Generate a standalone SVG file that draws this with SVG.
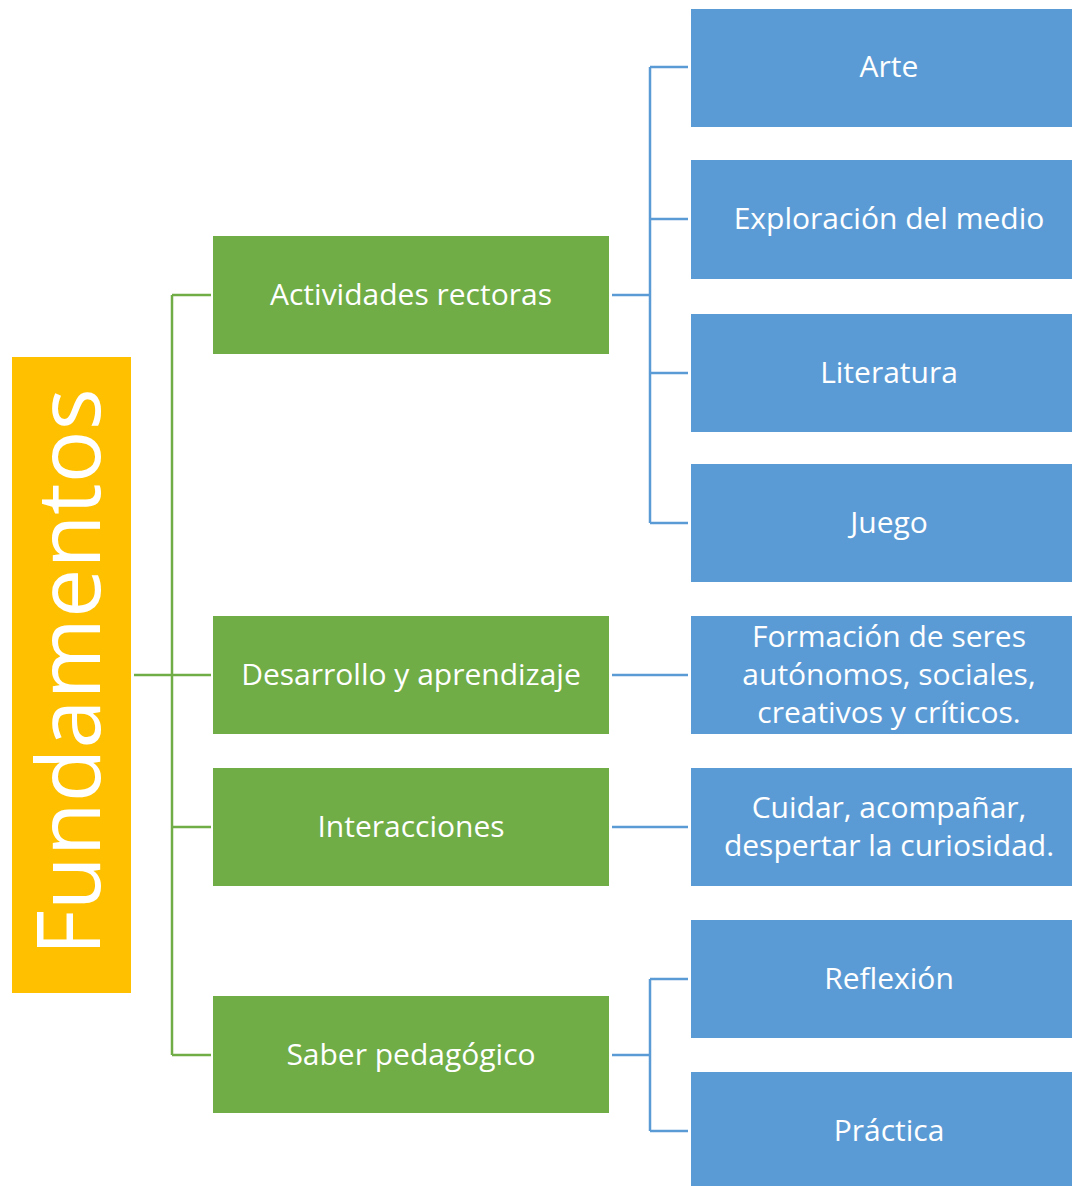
<svg xmlns="http://www.w3.org/2000/svg" width="1072" height="1186" viewBox="0 0 1072 1186">
<style>
.g{fill:#70AD47}
.b{fill:#5B9BD5}
.o{fill:#FFC000}
text{font-family:"Open Sans","Noto Sans",sans-serif;fill:#fff;text-anchor:middle}
.t{font-size:30px}
.cg{stroke:#70AD47;stroke-width:2.5;fill:none}
.cb{stroke:#5B9BD5;stroke-width:2.5;fill:none}
</style>
<rect width="1072" height="1186" fill="#fff"/>
<g id="connectors">
<path class="cg" d="M134 675H211M172 295V1055M172 295H211M172 827H211M172 1055H211"/>
<path class="cb" d="M612 295H650M650 67V523M650 67H688M650 219H688M650 373H688M650 523H688"/>
<path class="cb" d="M612 675H688M612 827H688"/>
<path class="cb" d="M612 1055H650M650 979V1131M650 979H688M650 1131H688"/>
</g>
<g id="fundamentos">
<rect class="o" x="12" y="357" width="119" height="636"/>
<text transform="translate(100,672) rotate(-90)" font-size="88">Fundamentos</text>
</g>
<g id="actividades">
<rect class="g" x="213" y="236" width="396" height="118"/>
<text class="t" x="411" y="305">Actividades rectoras</text>
</g>
<g id="desarrollo">
<rect class="g" x="213" y="616" width="396" height="118"/>
<text class="t" x="411" y="685">Desarrollo y aprendizaje</text>
</g>
<g id="interacciones">
<rect class="g" x="213" y="768" width="396" height="118"/>
<text class="t" x="411" y="837">Interacciones</text>
</g>
<g id="saber">
<rect class="g" x="213" y="996" width="396" height="117"/>
<text class="t" x="411" y="1065">Saber pedagógico</text>
</g>
<g id="arte">
<rect class="b" x="691" y="9" width="381" height="118"/>
<text class="t" x="889" y="77">Arte</text>
</g>
<g id="exploracion">
<rect class="b" x="691" y="160" width="381" height="119"/>
<text class="t" x="889" y="229">Exploración del medio</text>
</g>
<g id="literatura">
<rect class="b" x="691" y="314" width="381" height="118"/>
<text class="t" x="889" y="383">Literatura</text>
</g>
<g id="juego">
<rect class="b" x="691" y="464" width="381" height="118"/>
<text class="t" x="889" y="533">Juego</text>
</g>
<g id="formacion">
<rect class="b" x="691" y="616" width="381" height="118"/>
<text class="t" x="889" y="647">Formación de seres</text>
<text class="t" x="889" y="685">autónomos, sociales,</text>
<text class="t" x="889" y="723">creativos y críticos.</text>
</g>
<g id="cuidar">
<rect class="b" x="691" y="768" width="381" height="118"/>
<text class="t" x="889" y="818">Cuidar, acompañar,</text>
<text class="t" x="889" y="856">despertar la curiosidad.</text>
</g>
<g id="reflexion">
<rect class="b" x="691" y="920" width="381" height="118"/>
<text class="t" x="889" y="989">Reflexión</text>
</g>
<g id="practica">
<rect class="b" x="691" y="1072" width="381" height="114"/>
<text class="t" x="889" y="1141">Práctica</text>
</g>
</svg>
